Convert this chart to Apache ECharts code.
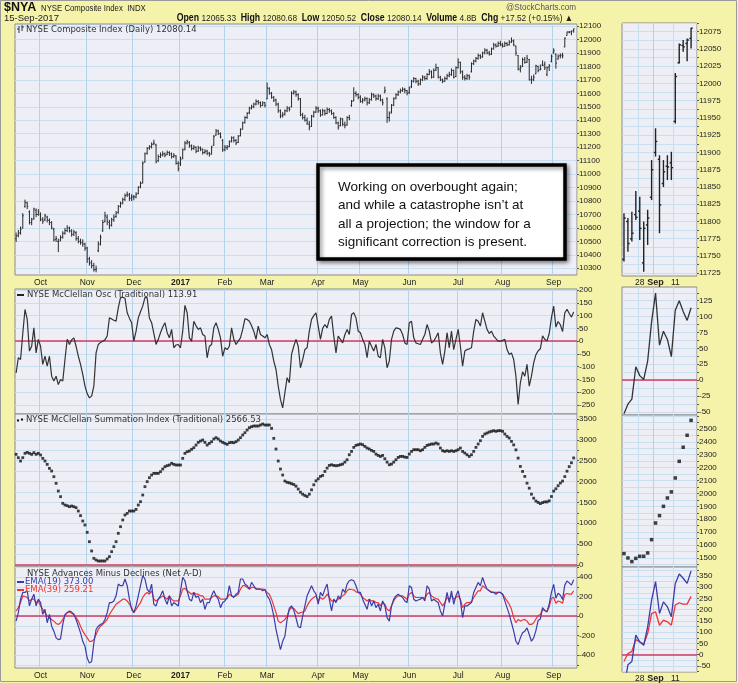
<!DOCTYPE html>
<html>
<head>
<meta charset="utf-8">
<script src="https://cdn.jsdelivr.net/npm/echarts@6.0.0/dist/echarts.min.js"></script>
<style>
html,body{margin:0;padding:0;background:#F5F2AA;}
#chart{width:738px;height:683px;}
</style>
</head>
<body>
<div id="chart"></div>
<script>
// ---------------- data ----------------
const monthLabels = ['Oct','Nov','Dec','2017','Feb','Mar','Apr','May','Jun','Jul','Aug','Sep'];
const monthStarts = [11,32,53,74,94,113,136,155,177,199,219,242];
const zoomLabels = ['28','Sep','11'];
const zoomLabelIdx = [4,8,13];
const zoomSessions = 18;

const priceOpen = [
10520,10545,10565,10600,10760,10785,10720,10640,10670,10730,
10700,10700,10665,10660,10680,10655,10640,10590,10515,10500,
10510,10530,10560,10580,10600,10575,10555,10565,10520,10500,
10495,10480,10450,10370,10340,10320,10290,10430,10480,10580,
10650,10680,10640,10620,10660,10685,10715,10760,10785,10810,
10845,10845,10820,10830,10830,10855,10905,10935,11090,11155,
11195,11205,11225,11215,11100,11130,11145,11150,11145,11160,
11150,11130,11135,11080,11080,11120,11185,11230,11235,11210,
11190,11200,11170,11195,11185,11160,11170,11155,11150,11215,
11290,11320,11300,11250,11180,11195,11205,11245,11270,11250,
11235,11285,11335,11385,11420,11455,11490,11500,11520,11540,
11530,11510,11530,11560,11635,11600,11570,11550,11520,11470,
11435,11445,11470,11490,11500,11600,11610,11590,11560,11440,
11420,11400,11370,11355,11430,11460,11490,11470,11440,11470,
11450,11480,11470,11450,11420,11380,11360,11410,11370,11365,
11420,11510,11545,11600,11590,11570,11540,11550,11560,11530,
11555,11590,11580,11560,11580,11550,11610,11560,11420,11460,
11515,11565,11590,11610,11620,11630,11620,11605,11650,11690,
11710,11690,11670,11700,11720,11710,11740,11760,11720,11775,
11790,11720,11700,11690,11710,11730,11740,11770,11725,11790,
11830,11760,11720,11710,11730,11760,11820,11840,11860,11880,
11870,11900,11920,11900,11890,11930,11960,11950,11970,11960,
11950,11970,11960,11980,11990,11950,11880,11780,11800,11850,
11830,11850,11700,11705,11745,11800,11775,11810,11815,11740,
11795,11835,11900,11890,11855,11880,11885,11945,12030,12055,
12058,12065.33];
const priceHigh = [
10565,10585,10610,10710,10810,10795,10730,10675,10750,10745,
10740,10715,10680,10705,10690,10670,10650,10600,10540,10520,
10545,10575,10600,10620,10610,10590,10585,10575,10540,10520,
10515,10490,10460,10385,10360,10340,10320,10500,10550,10660,
10720,10700,10660,10675,10700,10725,10770,10795,10825,10855,
10870,10860,10850,10845,10865,10910,10945,11095,11160,11200,
11215,11235,11255,11225,11145,11160,11170,11160,11175,11170,
11160,11155,11140,11095,11130,11190,11245,11255,11245,11220,
11215,11205,11210,11205,11190,11185,11180,11165,11210,11290,
11335,11330,11310,11260,11215,11215,11250,11280,11280,11260,
11290,11340,11390,11430,11460,11500,11515,11530,11555,11550,
11540,11540,11535,11680,11645,11610,11580,11560,11530,11480,
11460,11480,11505,11500,11615,11625,11620,11600,11565,11455,
11440,11420,11395,11440,11470,11505,11500,11480,11485,11480,
11495,11490,11480,11460,11430,11390,11420,11415,11390,11430,
11440,11550,11645,11615,11600,11585,11565,11575,11570,11565,
11605,11600,11590,11595,11590,11560,11650,11570,11465,11520,
11570,11600,11620,11635,11645,11640,11625,11650,11700,11720,
11715,11700,11710,11735,11730,11750,11780,11770,11785,11820,
11795,11730,11710,11725,11745,11760,11785,11775,11800,11860,
11835,11770,11735,11745,11740,11830,11850,11870,11895,11890,
11910,11935,11930,11915,11940,11975,11970,11985,11990,11975,
11985,11980,11995,12015,12000,11955,11885,11810,11865,11870,
11885,11855,11730,11740,11812,11805,11814,11844,11836,11800,
11817,11889,11935,11896,11889,11896,11901,12015,12058,12063,
12065,12080.68];
const priceLow = [
10495,10530,10550,10595,10750,10740,10625,10620,10660,10680,
10690,10650,10630,10650,10640,10620,10590,10500,10495,10420,
10500,10520,10550,10570,10565,10535,10540,10505,10485,10475,
10460,10430,10340,10320,10300,10275,10270,10420,10470,10570,
10640,10620,10590,10610,10645,10675,10705,10750,10775,10800,
10830,10800,10800,10805,10820,10850,10895,10930,11085,11145,
11180,11190,11215,11080,11090,11120,11130,11125,11140,11135,
11115,11120,11070,11020,11060,11110,11175,11220,11195,11175,
11180,11155,11165,11170,11145,11150,11140,11130,11145,11210,
11285,11290,11265,11165,11170,11180,11200,11235,11235,11215,
11230,11280,11330,11375,11410,11445,11480,11490,11510,11515,
11495,11505,11495,11555,11590,11560,11535,11505,11455,11415,
11420,11435,11460,11465,11495,11590,11575,11545,11430,11405,
11390,11365,11325,11350,11420,11455,11455,11425,11435,11435,
11445,11455,11440,11410,11370,11330,11355,11355,11340,11360,
11400,11500,11540,11575,11555,11530,11525,11540,11510,11520,
11545,11565,11545,11550,11540,11510,11600,11380,11390,11450,
11505,11555,11580,11600,11610,11600,11585,11595,11640,11680,
11675,11655,11660,11690,11695,11700,11735,11710,11715,11765,
11710,11690,11675,11685,11700,11720,11730,11710,11720,11785,
11745,11700,11695,11700,11700,11755,11810,11830,11850,11855,
11865,11890,11890,11880,11885,11925,11940,11945,11950,11940,
11945,11950,11955,11975,11950,11880,11770,11755,11795,11820,
11825,11695,11670,11690,11742,11756,11771,11802,11773,11727,
11766,11831,11894,11783,11850,11860,11860,11942,12029,12046,
12032,12050.52];
const priceClose = [
10540,10560,10590,10690,10790,10760,10640,10660,10740,10700,
10720,10660,10650,10690,10660,10640,10600,10510,10520,10500,
10530,10560,10580,10600,10580,10550,10570,10520,10500,10490,
10480,10450,10370,10340,10320,10290,10295,10480,10530,10640,
10690,10650,10620,10660,10680,10710,10760,10780,10810,10840,
10850,10820,10830,10830,10850,10900,10930,11080,11150,11190,
11200,11220,11230,11090,11130,11140,11150,11140,11160,11150,
11130,11140,11080,11040,11110,11180,11230,11240,11210,11190,
11200,11170,11195,11185,11160,11170,11155,11145,11200,11280,
11320,11300,11275,11180,11200,11200,11240,11270,11250,11230,
11280,11330,11380,11420,11450,11490,11500,11520,11540,11530,
11510,11530,11510,11640,11600,11570,11550,11520,11470,11430,
11440,11470,11490,11480,11600,11610,11590,11560,11440,11420,
11400,11380,11350,11430,11460,11490,11470,11440,11470,11450,
11480,11470,11450,11420,11380,11350,11410,11370,11360,11420,
11410,11540,11600,11590,11570,11540,11550,11560,11530,11550,
11590,11580,11560,11580,11550,11530,11620,11420,11450,11510,
11560,11590,11610,11620,11630,11620,11600,11640,11690,11710,
11690,11670,11700,11720,11710,11740,11760,11720,11770,11790,
11720,11700,11690,11710,11730,11740,11770,11720,11790,11830,
11760,11720,11710,11730,11720,11820,11840,11860,11880,11870,
11900,11920,11900,11890,11930,11960,11950,11970,11960,11950,
11970,11960,11980,11990,11960,11900,11780,11790,11850,11830,
11860,11700,11700,11720,11805,11768,11783,11806,11790,11790,
11805,11875,11916,11824,11872,11879,11878,12010,12056,12053,
12063,12080.14];
const mcClellanOsc = [
-124,-65,-72,30,124,85,-39,-20,52,-46,
7,-20,-91,-59,-98,-59,-137,-156,-137,-170,
-150,-156,-72,7,-13,5,13,-20,-59,-91,
-130,-176,-205,-222,-215,-176,-46,-13,-5,0,
5,20,91,87,82,78,130,170,172,168,
111,90,72,0,39,91,115,137,170,170,
91,72,30,-13,7,33,55,72,33,13,
46,-26,-15,-13,-26,39,140,111,13,0,
78,60,46,52,26,20,-65,-20,-13,52,
72,46,13,-59,-26,-33,-20,52,7,-13,
0,13,46,87,85,78,60,39,7,59,
26,20,13,26,-13,-33,-78,-111,-176,-228,
-261,-202,-143,-163,-52,-20,7,-20,-104,-72,
-33,-26,39,85,100,111,59,7,50,65,
52,85,98,20,-46,20,7,-7,25,46,
26,104,111,91,39,33,7,-13,-65,0,
-20,-39,-13,-59,-65,7,-26,-104,-78,7,
39,52,50,46,26,-7,-13,72,78,13,
-7,-10,-13,7,26,65,39,-7,0,15,
33,-46,-91,-39,33,-26,39,-33,7,46,
-20,-98,-39,-33,-30,-26,39,85,78,59,
111,78,46,30,39,20,10,0,0,3,
7,-33,-52,-46,-72,-137,-248,-163,-120,-137,
-91,-176,-137,-85,-53,-38,-30,21,7,1,
30,92,137,55,77,64,37,110,125,108,
94,113.91];
const summationIndex = [
2653,2573,2493,2573,2677,2700,2677,2653,2693,2653,
2677,2637,2557,2493,2413,2317,2253,2117,1958,1774,
1638,1478,1438,1422,1398,1414,1398,1374,1294,1183,
1055,959,783,559,336,160,120,96,96,96,
96,144,200,320,439,559,759,919,1079,1198,
1238,1294,1294,1294,1334,1438,1518,1678,1878,1998,
2093,2157,2197,2197,2197,2237,2301,2357,2381,2397,
2437,2413,2397,2397,2397,2557,2677,2717,2733,2773,
2812,2876,2940,2972,2996,2940,2876,2916,2956,3020,
3052,3020,2972,2940,2916,2892,2932,2940,2932,2956,
2996,3052,3116,3172,3236,3292,3316,3332,3332,3332,
3356,3380,3356,3356,3356,3276,3036,2780,2493,2301,
2157,2013,1982,1970,1950,1930,1890,1820,1746,1698,
1666,1642,1698,1802,1922,2018,2066,2123,2147,2243,
2323,2387,2403,2387,2379,2387,2403,2419,2467,2523,
2643,2723,2820,2868,2884,2900,2884,2844,2804,2780,
2748,2723,2659,2627,2603,2627,2547,2467,2403,2419,
2467,2523,2579,2603,2603,2587,2579,2659,2723,2764,
2764,2764,2740,2764,2820,2868,2884,2900,2900,2924,
2900,2804,2740,2723,2740,2723,2740,2723,2740,2764,
2804,2723,2684,2643,2603,2643,2723,2820,2900,2980,
3084,3140,3164,3188,3204,3220,3204,3220,3220,3204,
3140,3084,3044,2964,2880,2760,2563,2363,2243,2123,
1962,1842,1698,1602,1534,1500,1472,1497,1513,1513,
1539,1642,1771,1828,1900,1965,2012,2120,2249,2358,
2451,2566.53];
const netAdEma19 = [
-52,35,173,242,242,259,104,173,224,104,
173,138,17,69,-69,17,-104,-155,-224,-242,
-235,-86,17,35,52,41,17,-35,-104,-173,
-259,-311,-431,-483,-466,-276,-138,-104,-86,-76,
-35,35,138,138,155,207,328,311,311,380,
311,173,69,35,104,207,311,414,380,276,
242,328,121,104,173,207,259,173,121,207,
104,138,121,104,259,397,362,259,173,155,
242,190,207,138,173,69,138,138,207,259,
207,173,86,138,155,190,311,207,190,224,
242,380,380,328,311,276,345,311,276,276,
276,259,276,207,173,104,0,-138,-242,-345,
-259,-207,-35,80,104,60,-20,-110,-121,0,
104,207,259,311,259,224,121,242,207,276,
328,173,52,173,138,207,173,276,242,328,
362,373,362,311,242,242,173,121,69,173,
104,155,86,121,52,155,104,-17,-52,104,
173,207,224,207,190,155,138,311,293,173,
155,165,173,190,155,311,276,155,173,155,
138,52,0,121,242,138,259,121,207,259,
155,-17,104,104,121,138,242,293,345,311,
397,328,276,259,242,242,224,242,242,224,
155,86,17,-69,-155,-259,-293,-224,-172,-155,
-121,-190,-259,-224,-150,-45,-30,87,57,42,
124,243,325,183,235,213,169,317,359,340,
317,373.00];
const netAdEma39 = [
52,86,138,207,200,190,155,173,173,138,
155,104,69,35,0,-17,-35,-52,-76,-86,
-69,-35,0,35,41,28,17,-17,-52,-104,
-155,-190,-224,-259,-259,-242,-190,-138,-104,-86,
-62,-35,17,52,86,121,138,155,173,173,
155,121,86,35,69,104,138,190,224,242,
224,259,173,155,173,190,207,190,173,207,
173,155,155,155,207,276,283,259,242,224,
242,224,224,207,207,173,173,173,190,207,
207,200,173,173,173,179,224,207,200,207,
224,276,311,311,293,276,293,293,283,276,
276,276,269,242,224,173,104,35,-52,-69,
-52,-35,0,60,86,80,50,25,35,41,
52,104,145,173,190,207,155,190,173,190,
224,190,155,155,155,173,190,207,224,259,
276,272,269,248,242,224,190,173,155,173,
155,155,138,138,104,138,121,69,52,104,
155,190,207,207,207,190,173,224,242,207,
190,190,190,190,179,224,242,207,190,179,
173,138,104,138,190,173,207,173,190,207,
173,86,121,138,141,145,190,224,259,259,
311,293,276,259,248,242,242,242,242,224,
190,155,121,69,-17,-69,-35,-52,-41,-35,
-52,-86,-86,-69,-30,5,15,67,57,47,
94,183,191,131,154,146,131,221,231,225,
225,259.21];

// ---------------- helpers ----------------
const steps = (a, b, s) => { const r = []; for (let k = 0; a + k * s <= b + 1e-9; k++) r.push(+(a + k * s).toFixed(2)); return r; };
const N = priceClose.length;
const Z0 = N - zoomSessions;
const priceRows = priceClose.map((c, i) => [i, priceOpen[i], priceHigh[i], priceLow[i], c]);
const zoomRows = priceRows.slice(Z0).map((r, k) => [k, r[1], r[2], r[3], r[4]]);
const mainCats = Array.from({length: N + 1}, (_, i) => String(i));
const zoomCats = Array.from({length: zoomSessions + 1}, (_, i) => String(i));

const BG = '#F5F2AA', PANEL = '#EEEEF7', GRIDC = '#C8DFEF', MONTHC = '#B3D3EA';
const ZERO = '#D23A63', BLUE = '#3C3CA8', RED = '#EE3535';
const AXFONT = 'Liberation Sans';
const LEGFONT = 'DejaVu Sans';
const NARROW = "'Liberation Sans Narrow', 'Liberation Sans'";

function ohlcItem(lw, color) {
  return function (params, api) {
    const i = api.value(0);
    const o = api.coord([i, api.value(1)]);
    const h = api.coord([i, api.value(2)]);
    const l = api.coord([i, api.value(3)]);
    const c = api.coord([i, api.value(4)]);
    const band = api.size([1, 0])[0];
    const t = Math.max(1, band * 0.45);
    const st = {stroke: color, lineWidth: lw};
    return {type: 'group', children: [
      {type: 'line', shape: {x1: h[0], y1: h[1], x2: l[0], y2: l[1]}, style: st},
      {type: 'line', shape: {x1: o[0] - t, y1: o[1], x2: o[0], y2: o[1]}, style: st},
      {type: 'line', shape: {x1: c[0], y1: c[1], x2: c[0] + t, y2: c[1]}, style: st}
    ]};
  };
}

function mainX(grid, showLabel) {
  return {
    type: 'category', gridIndex: grid, data: mainCats, boundaryGap: true,
    axisLine: {show: false}, axisTick: {show: false},
    axisLabel: {
      show: showLabel, interval: (i) => monthStarts.indexOf(i) >= 0, margin: 3,
      fontSize: 8.5, fontFamily: AXFONT, color: '#222',
      formatter: (v) => { const k = monthStarts.indexOf(Number(v)); if (k < 0) return ''; const s = monthLabels[k]; return /^\d+$/.test(s) ? '{b|' + s + '}' : s; },
      rich: {b: {fontWeight: 'bold', fontSize: 8.5, fontFamily: AXFONT, color: '#222'}}
    },
    splitLine: {show: true, interval: (i) => monthStarts.indexOf(i) >= 0, lineStyle: {color: MONTHC, width: 1}}
  };
}
function zoomX(grid, showLabel) {
  return {
    type: 'category', gridIndex: grid, data: zoomCats, boundaryGap: true,
    axisLine: {show: false}, axisTick: {show: false},
    axisLabel: {
      show: showLabel, interval: (i) => zoomLabelIdx.indexOf(i) >= 0, margin: 2,
      fontSize: 8.5, fontFamily: AXFONT, color: '#222',
      formatter: (v) => { const k = zoomLabelIdx.indexOf(Number(v)); if (k < 0) return ''; const s = zoomLabels[k]; return /^\d+$/.test(s) ? s : '{b|' + s + '}'; },
      rich: {b: {fontWeight: 'bold', fontSize: 9, fontFamily: AXFONT, color: '#222'}}
    },
    splitLine: {show: true, interval: (i) => zoomLabelIdx.indexOf(i) >= 0, lineStyle: {color: [GRIDC, MONTHC, GRIDC], width: 1}}
  };
}
function yAx(grid, min, max, labels, lines) {
  return {
    type: 'value', gridIndex: grid, position: 'right', min: min, max: max,
    axisLine: {show: false},
    axisTick: {show: true, length: 2, lineStyle: {color: '#555'}, customValues: lines},
    axisLabel: {show: true, customValues: labels, fontSize: 8, fontFamily: AXFONT, color: '#222', margin: 2,
      formatter: (v) => String(v)},
    splitLine: {show: true, lineStyle: {color: GRIDC, width: 1}}
  };
}
const zeroLine = {silent: true, symbol: 'none', label: {show: false}, lineStyle: {color: ZERO, width: 1.5, type: 'solid'}, data: [{yAxis: 0}], animation: false};
const gridBase = {show: true, backgroundColor: PANEL, borderColor: '#8a8a8a', borderWidth: 1};

const option = {
  backgroundColor: BG,
  animation: false,
  grid: [
    Object.assign({left: 15, top: 24, width: 562, height: 251}, gridBase),
    Object.assign({left: 15, top: 289, width: 562, height: 125}, gridBase),
    Object.assign({left: 15, top: 414, width: 562, height: 153}, gridBase),
    Object.assign({left: 15, top: 567, width: 562, height: 101}, gridBase),
    Object.assign({left: 622, top: 23, width: 75, height: 253}, gridBase),
    Object.assign({left: 622, top: 287, width: 75, height: 128}, gridBase),
    Object.assign({left: 622, top: 415, width: 75, height: 152}, gridBase),
    Object.assign({left: 622, top: 567, width: 75, height: 105}, gridBase)
  ],
  xAxis: [mainX(0, true), mainX(1, false), mainX(2, false), mainX(3, true),
          zoomX(4, true), zoomX(5, false), zoomX(6, false), zoomX(7, true)],
  yAxis: [
    yAx(0, 10250, 12115, steps(10300, 12100, 100), steps(10300, 12100, 100)),
    yAx(1, -285, 204, steps(-250, 200, 50), steps(-250, 200, 50)),
    yAx(2, -48, 3620, steps(0, 3500, 500), steps(0, 3500, 250)),
    yAx(3, -533, 503, steps(-400, 400, 200), steps(-500, 500, 100)),
    yAx(4, 11721, 12087.6, steps(11725, 12075, 25), steps(11725, 12087.5, 12.5)),
    yAx(5, -55, 146.6, steps(-50, 125, 25), steps(-50, 137.5, 12.5)),
    yAx(6, 1430, 2608, steps(1500, 2500, 100), steps(1450, 2600, 50)),
    yAx(7, -77, 390, steps(-50, 350, 50), steps(-75, 375, 25))
  ],
  series: [
    {type: 'custom', xAxisIndex: 0, yAxisIndex: 0, renderItem: ohlcItem(1, '#2a2a2a'), data: priceRows, encode: {x: 0, y: [1, 2, 3, 4]}, z: 5},
    {type: 'line', xAxisIndex: 1, yAxisIndex: 1, data: mcClellanOsc, showSymbol: false, lineStyle: {color: '#333', width: 1.2}, markLine: zeroLine, z: 5},
    {type: 'scatter', xAxisIndex: 2, yAxisIndex: 2, data: summationIndex, symbol: 'rect', symbolSize: 2.8, itemStyle: {color: '#111'}, markLine: zeroLine, z: 5},
    {type: 'line', xAxisIndex: 3, yAxisIndex: 3, data: netAdEma39, showSymbol: false, lineStyle: {color: RED, width: 1.2}, markLine: zeroLine, z: 5},
    {type: 'line', xAxisIndex: 3, yAxisIndex: 3, data: netAdEma19, showSymbol: false, lineStyle: {color: BLUE, width: 1.2}, z: 6},
    {type: 'custom', xAxisIndex: 4, yAxisIndex: 4, renderItem: ohlcItem(1.4, '#222'), data: zoomRows, encode: {x: 0, y: [1, 2, 3, 4]}, z: 5},
    {type: 'line', xAxisIndex: 5, yAxisIndex: 5, data: mcClellanOsc.slice(Z0), showSymbol: false, lineStyle: {color: '#333', width: 1.3}, markLine: zeroLine, z: 5},
    {type: 'scatter', xAxisIndex: 6, yAxisIndex: 6, data: summationIndex.slice(Z0), symbol: 'rect', symbolSize: 3.5, itemStyle: {color: '#111'}, z: 5},
    {type: 'line', xAxisIndex: 7, yAxisIndex: 7, data: netAdEma39.slice(Z0), showSymbol: false, lineStyle: {color: RED, width: 1.3}, markLine: zeroLine, z: 5},
    {type: 'line', xAxisIndex: 7, yAxisIndex: 7, data: netAdEma19.slice(Z0), showSymbol: false, lineStyle: {color: BLUE, width: 1.3}, z: 6}
  ],
  graphic: [
    {type: 'rect', z: 0, silent: true, shape: {x: 0.5, y: 0.5, width: 736, height: 681}, style: {fill: null, stroke: '#9a9a9a', lineWidth: 1}},
    // header
    {type: 'text', z: 50, x: 4, y: 8, style: {text: '$NYA', fontSize: 12.5, fontWeight: 'bold', fontFamily: AXFONT, fill: '#111', verticalAlign: 'middle'}},
    {type: 'text', z: 50, x: 41, y: 8.5, scaleX: 0.82, style: {text: 'NYSE Composite Index  INDX', fontSize: 9.5, fontFamily: NARROW, fill: '#222', verticalAlign: 'middle'}},
    {type: 'text', z: 50, x: 4, y: 18, style: {text: '15-Sep-2017', fontSize: 9.5, fontFamily: NARROW, fill: '#222', verticalAlign: 'middle'}},
    {type: 'text', z: 50, x: 576, y: 7.5, scaleX: 0.9, style: {text: '@StockCharts.com', fontSize: 9, fontFamily: NARROW, fill: '#555', align: 'right', verticalAlign: 'middle'}},
    {type: 'text', z: 50, x: 573, y: 18, scaleX: 0.875, style: {
      text: '{b|Open} 12065.33  {b|High} 12080.68  {b|Low} 12050.52  {b|Close} 12080.14  {b|Volume} 4.8B  {b|Chg} +17.52 (+0.15%) \u25B2',
      fontSize: 9.5, fontFamily: NARROW, fill: '#222', align: 'right', verticalAlign: 'middle',
      rich: {b: {fontWeight: 'bold', fontSize: 10, fontFamily: NARROW, fill: '#111'}}}},
    // panel legends
    {type: 'line', z: 50, shape: {x1: 19, y1: 26, x2: 19, y2: 33}, style: {stroke: '#333', lineWidth: 1}},
    {type: 'line', z: 50, shape: {x1: 17, y1: 29, x2: 19, y2: 29}, style: {stroke: '#333', lineWidth: 1}},
    {type: 'line', z: 50, shape: {x1: 22, y1: 25, x2: 22, y2: 31}, style: {stroke: '#333', lineWidth: 1}},
    {type: 'line', z: 50, shape: {x1: 22, y1: 27, x2: 24, y2: 27}, style: {stroke: '#333', lineWidth: 1}},
    {type: 'text', z: 50, x: 26, y: 29.5, style: {text: 'NYSE Composite Index (Daily) 12080.14', fontSize: 8.5, fontFamily: LEGFONT, fill: '#333', verticalAlign: 'middle'}},
    {type: 'line', z: 50, shape: {x1: 17, y1: 295, x2: 24, y2: 295}, style: {stroke: '#222', lineWidth: 2}},
    {type: 'text', z: 50, x: 27, y: 295, style: {text: 'NYSE McClellan Osc (Traditional) 113.91', fontSize: 8.5, fontFamily: LEGFONT, fill: '#333', verticalAlign: 'middle'}},
    {type: 'rect', z: 50, shape: {x: 17, y: 419.5, width: 2, height: 2}, style: {fill: '#111'}},
    {type: 'rect', z: 50, shape: {x: 21, y: 418.5, width: 2, height: 2}, style: {fill: '#111'}},
    {type: 'text', z: 50, x: 26, y: 420, style: {text: 'NYSE McClellan Summation Index (Traditional) 2566.53', fontSize: 8.5, fontFamily: LEGFONT, fill: '#333', verticalAlign: 'middle'}},
    {type: 'text', z: 50, x: 27, y: 574, style: {text: 'NYSE Advances Minus Declines (Net A-D)', fontSize: 8.5, fontFamily: LEGFONT, fill: '#333', verticalAlign: 'middle'}},
    {type: 'line', z: 50, shape: {x1: 17, y1: 582, x2: 24, y2: 582}, style: {stroke: BLUE, lineWidth: 2}},
    {type: 'text', z: 50, x: 25, y: 582, style: {text: 'EMA(19) 373.00', fontSize: 8.5, fontFamily: LEGFONT, fill: BLUE, verticalAlign: 'middle'}},
    {type: 'line', z: 50, shape: {x1: 17, y1: 590, x2: 24, y2: 590}, style: {stroke: RED, lineWidth: 2}},
    {type: 'text', z: 50, x: 25, y: 590, style: {text: 'EMA(39) 259.21', fontSize: 8.5, fontFamily: LEGFONT, fill: RED, verticalAlign: 'middle'}},
    // annotation box
    {type: 'rect', z: 60, shape: {x: 318, y: 165, width: 247, height: 94}, style: {fill: '#fff', stroke: '#000', lineWidth: 3.5, shadowBlur: 4, shadowOffsetX: 2, shadowOffsetY: 2, shadowColor: 'rgba(0,0,0,0.45)'}},
    {type: 'text', z: 61, x: 338, y: 187, style: {text: 'Working on overbought again;', fontSize: 13.5, fontFamily: AXFONT, fill: '#111', verticalAlign: 'middle'}},
    {type: 'text', z: 61, x: 338, y: 205.5, style: {text: 'and while a catastrophe isn\u2019t at', fontSize: 13.5, fontFamily: AXFONT, fill: '#111', verticalAlign: 'middle'}},
    {type: 'text', z: 61, x: 338, y: 224, style: {text: 'all a projection; the window for a', fontSize: 13.5, fontFamily: AXFONT, fill: '#111', verticalAlign: 'middle'}},
    {type: 'text', z: 61, x: 338, y: 242.5, style: {text: 'significant correction is present.', fontSize: 13.5, fontFamily: AXFONT, fill: '#111', verticalAlign: 'middle'}}
  ]
};

const chart = echarts.init(document.getElementById('chart'), null, {renderer: 'canvas'});
chart.setOption(option);
</script>
</body>
</html>
